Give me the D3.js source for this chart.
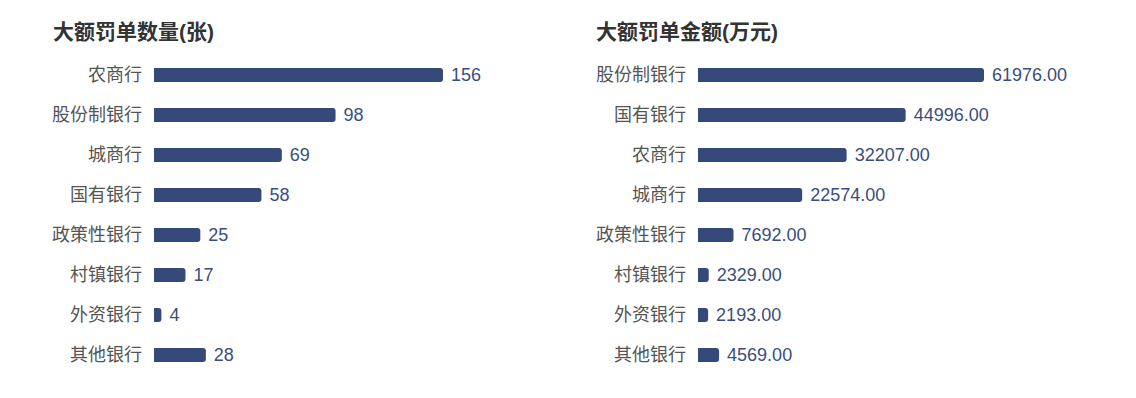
<!DOCTYPE html>
<html>
<head>
<meta charset="utf-8">
<script src="https://cdn.jsdelivr.net/npm/d3@7"></script>
<style>
  body { margin: 0; background: #fff; }
  svg { font-family: "Liberation Sans", "Noto Sans CJK SC", sans-serif; }
</style>
</head>
<body>
<div id="chart"></div>
<script>
const countCategories = ["农商行", "股份制银行", "城商行", "国有银行", "政策性银行", "村镇银行", "外资银行", "其他银行"];
const countValues = [156, 98, 69, 58, 25, 17, 4, 28];

const amountCategories = ["股份制银行", "国有银行", "农商行", "城商行", "政策性银行", "村镇银行", "外资银行", "其他银行"];
const amountValues = [61976, 44996, 32207, 22574, 7692, 2329, 2193, 4569];

const width = 1136;
const height = 398;
const barColor = "#354a7b";

const svg = d3
  .select("#chart")
  .append("svg")
  .attr("width", width)
  .attr("height", height);

// bar with rounded right end only
const barPath = (x0, y0, w, h, r) => {
  r = Math.min(r, w / 2, h / 2);
  return `M${x0},${y0}H${x0 + w - r}Q${x0 + w},${y0} ${x0 + w},${y0 + r}` +
    `V${y0 + h - r}Q${x0 + w},${y0 + h} ${x0 + w - r},${y0 + h}H${x0}Z`;
};

const drawPanel = (opts) => {
  const { title, categories, values, titleX, barX, barWidth, format } = opts;
  const g = svg.append("g");

  g.append("text")
    .attr("x", titleX)
    .attr("y", 39)
    .attr("fill", "#333")
    .attr("font-size", "21px")
    .attr("font-weight", "bold")
    .text(title);

  const yScale = d3
    .scaleBand()
    .domain(categories)
    .range([55, 375])
    .paddingInner(0.65)
    .paddingOuter(0.325);

  const xScale = d3
    .scaleLinear()
    .domain([0, d3.max(values)])
    .range([barX, barX + barWidth]);

  const rows = categories.map((c, i) => ({ name: c, value: values[i] }));

  g.selectAll("path.bar")
    .data(rows)
    .join("path")
    .attr("class", "bar")
    .attr("fill", barColor)
    .attr("d", (d) =>
      barPath(xScale(0), yScale(d.name), xScale(d.value) - xScale(0), yScale.bandwidth(), 3)
    );

  g.selectAll("text.cat")
    .data(rows)
    .join("text")
    .attr("class", "cat")
    .attr("x", barX - 12)
    .attr("y", (d) => yScale(d.name) + yScale.bandwidth() / 2)
    .attr("dy", "0.35em")
    .attr("text-anchor", "end")
    .attr("fill", "#555")
    .attr("font-size", "18px")
    .text((d) => d.name);

  g.selectAll("text.val")
    .data(rows)
    .join("text")
    .attr("class", "val")
    .attr("x", (d) => xScale(d.value) + 8)
    .attr("y", (d) => yScale(d.name) + yScale.bandwidth() / 2)
    .attr("dy", "0.35em")
    .attr("fill", "#3a4e7e")
    .attr("font-size", "18px")
    .text((d) => format(d.value));
};

drawPanel({
  title: "大额罚单数量(张)",
  categories: countCategories,
  values: countValues,
  titleX: 53,
  barX: 154,
  barWidth: 289,
  format: (v) => v,
});

drawPanel({
  title: "大额罚单金额(万元)",
  categories: amountCategories,
  values: amountValues,
  titleX: 596,
  barX: 698,
  barWidth: 286,
  format: (v) => v.toFixed(2),
});
</script>
</body>
</html>
